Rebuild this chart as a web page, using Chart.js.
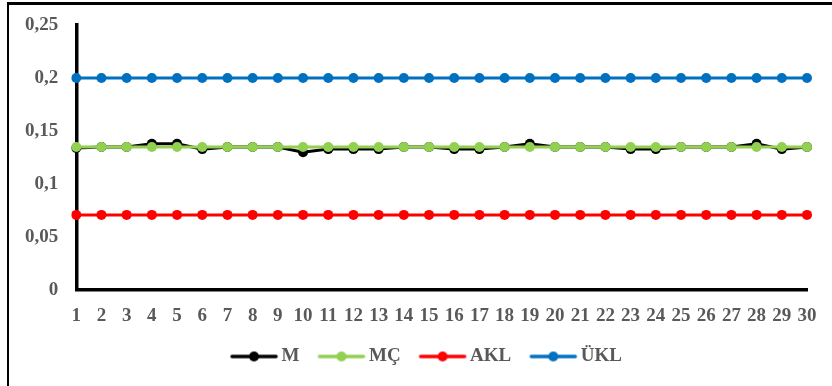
<!DOCTYPE html>
<html lang="tr">
<head>
    <meta charset="UTF-8">
    <title>Kontrol Grafiği</title>
    <style>
        html, body { margin: 0; padding: 0; background: #fff; }
        .wrap { position: relative; width: 832px; height: 386px; overflow: hidden; }
        .frame {
            position: absolute; left: 7px; top: 2px; right: -10px; bottom: -10px;
            border-left: 2px solid #000; border-top: 3px solid #000;
        }
        canvas { position: absolute; left: 0; top: 0; }
    </style>
</head>
<body>
    <div class="wrap">
        <div class="frame"></div>
        <canvas id="lineChart" width="832" height="386"></canvas>
    </div>

    <script src="https://cdn.jsdelivr.net/npm/chart.js"></script>
    <script>
        // chart data
        const gunler = ['1','2','3','4','5','6','7','8','9','10','11','12','13','14','15',
                        '16','17','18','19','20','21','22','23','24','25','26','27','28','29','30'];
        const mDegerleri = [0.134, 0.135, 0.135, 0.138, 0.138, 0.133, 0.135, 0.135, 0.135, 0.130,
                            0.133, 0.133, 0.133, 0.135, 0.135, 0.133, 0.133, 0.135, 0.138, 0.135,
                            0.135, 0.135, 0.133, 0.133, 0.135, 0.135, 0.135, 0.138, 0.133, 0.135];
        const mcDegerleri = Array(30).fill(0.135);
        const aklDegerleri = Array(30).fill(0.071);
        const uklDegerleri = Array(30).fill(0.2);
        const yTicks = [0, 0.05, 0.1, 0.15, 0.2, 0.25];

        const gray = '#595959';
        const fontFamily = '"Liberation Serif", "Times New Roman", serif';

        // legend symbol: short line with a dot in the middle
        // (image is wider than the legend box so the text sits closer)
        function legendIcon(color) {
            const c = document.createElement('canvas');
            c.width = 60; c.height = 12;
            const g = c.getContext('2d');
            g.strokeStyle = color;
            g.lineWidth = 3.5;
            g.lineCap = 'round';
            g.beginPath(); g.moveTo(13, 6); g.lineTo(57, 6); g.stroke();
            g.fillStyle = color;
            g.beginPath(); g.arc(35, 6, 5, 0, Math.PI * 2); g.fill();
            return c;
        }

        function seri(label, data, color, order) {
            return {
                label: label,
                data: data,
                borderColor: color,
                backgroundColor: color,
                borderWidth: 3,
                pointRadius: 5,
                pointHoverRadius: 5,
                pointBorderWidth: 0,
                pointStyle: 'circle',
                tension: 0,
                order: order,
                legendIcon: legendIcon(color)
            };
        }

        // nudge the legend a bit to the right, like the original
        const legendShift = {
            id: 'legendShift',
            afterLayout(chart) {
                if (chart.legend) {
                    chart.legend.left += 17;
                    chart.legend.right += 17;
                }
            }
        };

        const ctx = document.getElementById('lineChart').getContext('2d');

        new Chart(ctx, {
            type: 'line',
            data: {
                labels: gunler,
                datasets: [
                    seri('M', mDegerleri, '#000000', 1),
                    seri('MÇ', mcDegerleri, '#92D050', 0),
                    seri('AKL', aklDegerleri, '#FF0000', 2),
                    seri('ÜKL', uklDegerleri, '#0070C0', 3)
                ]
            },
            plugins: [legendShift],
            options: {
                responsive: false,
                animation: false,
                layout: { padding: { left: 7, right: 25, top: 25, bottom: 10 } },
                plugins: {
                    tooltip: { enabled: false },
                    legend: {
                        position: 'bottom',
                        labels: {
                            color: gray,
                            font: { family: fontFamily, size: 19, weight: 'bold' },
                            usePointStyle: true,
                            pointStyleWidth: 46,
                            padding: 14,
                            sort: (a, b) => a.datasetIndex - b.datasetIndex,
                            generateLabels: (chart) => chart.data.datasets.map((ds, i) => ({
                                text: ds.label,
                                fillStyle: ds.borderColor,
                                strokeStyle: ds.borderColor,
                                lineWidth: 0,
                                pointStyle: ds.legendIcon,
                                fontColor: gray,
                                datasetIndex: i,
                                hidden: false
                            }))
                        }
                    }
                },
                scales: {
                    x: {
                        offset: false,
                        grid: { display: false, drawTicks: false },
                        border: { color: '#000', width: 3.5 },
                        afterFit: (s) => { s.height -= 8; },
                        ticks: {
                            color: gray,
                            autoSkip: false,
                            maxRotation: 0,
                            padding: 14,
                            font: { family: fontFamily, size: 19, weight: 'bold' }
                        }
                    },
                    y: {
                        min: 0,
                        max: 0.25,
                        afterBuildTicks: (axis) => { axis.ticks = yTicks.map(v => ({ value: v })); },
                        afterFit: (s) => { s.paddingTop = 0; },
                        grid: { display: false, drawTicks: false },
                        border: { color: '#000', width: 3.5 },
                        ticks: {
                            color: gray,
                            padding: 18,
                            font: { family: fontFamily, size: 19, weight: 'bold' },
                            callback: (v) => String(+v.toFixed(2)).replace('.', ',')
                        }
                    }
                }
            }
        });
    </script>
</body>
</html>
